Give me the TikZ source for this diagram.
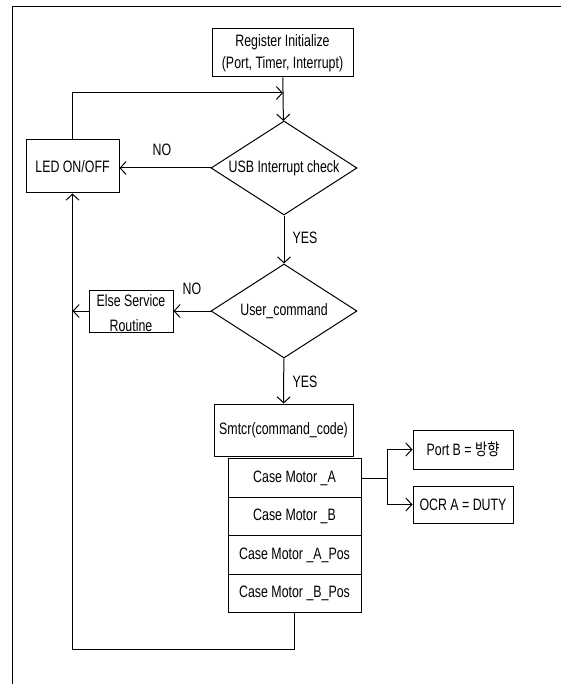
\documentclass[tikz,border=0pt]{standalone}
\usepackage{fontspec}
\setmainfont{Liberation Sans}[FakeStretch=0.75]
\newfontfamily\krfont{Noto Sans CJK KR}[FakeStretch=0.8]
\usetikzlibrary{arrows.meta,shapes.geometric}
\tikzset{
 frame/.style={line width=1pt},
 block/.style={draw,line width=1pt,inner sep=0,align=center,font=\fontsize{16.5}{22}\selectfont},
 decision/.style={diamond,draw,line width=1pt,inner sep=0,aspect=1.55,minimum width=146pt,minimum height=94pt,font=\fontsize{16.5}{22}\selectfont},
 caserow/.style={block,minimum width=133pt,minimum height=38.5pt},
 tag/.style={inner sep=0,font=\fontsize{16.5}{25}\selectfont},
 line/.style={line width=1pt},
 link/.style={line width=1pt,-{Straight Barb[length=6pt,width=13pt]}}
}
\begin{document}
\begin{tikzpicture}[x=1pt,y=-1pt]
\path[use as bounding box] (0,0) rectangle (561,684);
\draw[frame] (561,7) -- (12,7) -- (12,684);
\node[block,minimum width=141pt,minimum height=48pt] (init) at (282.5,53) {Register Initialize\\(Port, Timer, Interrupt)};
\node[decision] (usb) at (284,168) {USB Interrupt check};
\node[block,minimum width=93pt,minimum height=53pt] (led) at (72.5,166.5) {LED ON/OFF};
\node[decision] (cmd) at (284,311) {User\_command};
\node[block,minimum width=84pt,minimum height=42pt] (else) at (131,311) {};
\node[tag,align=center] (elsetext) at (131,313) {Else Service\\Routine};
\node[block,minimum width=139pt,minimum height=52pt] (smtcr) at (283.5,430) {Smtcr(command\_code)};
\node[caserow] (caseA) at (294.5,478) {Case Motor \_A};
\node[caserow] (caseB) at (294.5,516.5) {Case Motor \_B};
\node[caserow] (caseApos) at (294.5,555) {Case Motor \_A\_Pos};
\node[caserow] (caseBpos) at (294.5,593.5) {Case Motor \_B\_Pos};
\node[block,minimum width=100pt,minimum height=39pt] (portB) at (463,449.5) {Port B = {\krfont 방향}};
\node[block,minimum width=100pt,minimum height=37pt] (ocrA) at (463,504.5) {OCR A = DUTY};
% labels
\node[tag] (noA) at (162,150) {NO};
\node[tag] (noB) at (192,289) {NO};
\node[tag] (yesA) at (305,238) {YES};
\node[tag] (yesB) at (305,382) {YES};
% connectors
\coordinate (merge) at (283,93);
\coordinate (split) at (387,478);
\draw[link] (init) -- (usb);
\draw[link] (led.north) |- (merge);
\draw[link] (usb.west) -- (usb.west -| led.east);
\draw[link] (usb) -- (cmd);
\draw[link] (cmd.west) -- (else.east);
\draw[link] (else.west) -- (else.west -| led.south);
\draw[link] (cmd) -- (smtcr);
\draw[line] (caseA.east) -- (split);
\draw[link] (split) |- (portB.west);
\draw[link] (split) |- (ocrA.west);
\draw[link] (caseBpos.south) -- ++(0,36) -| (led.south);
\end{tikzpicture}
\end{document}
